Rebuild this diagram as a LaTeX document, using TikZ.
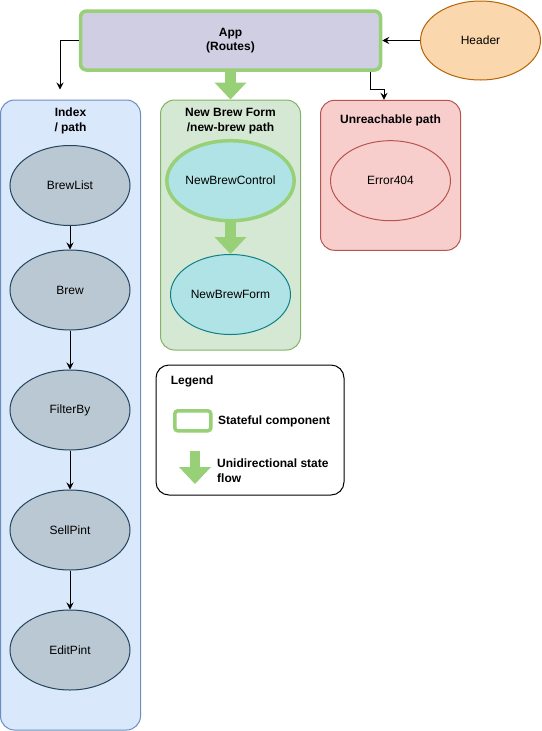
\documentclass[tikz,border=0pt]{standalone}
\usepackage{fontspec}
\setmainfont{Liberation Sans}
\usetikzlibrary{shapes.geometric,arrows.meta}
\definecolor{stategreen}{HTML}{97D077}
\definecolor{applav}{HTML}{D0CEE2}
\definecolor{bluefill}{HTML}{DAE8FC}
\definecolor{bluedraw}{HTML}{6C8EBF}
\definecolor{greenfill}{HTML}{D5E8D4}
\definecolor{greendraw}{HTML}{82B366}
\definecolor{redfill}{HTML}{F8CECC}
\definecolor{reddraw}{HTML}{B85450}
\definecolor{orgfill}{HTML}{FAD7AC}
\definecolor{orgdraw}{HTML}{B46504}
\definecolor{greyfill}{HTML}{BAC8D3}
\definecolor{greydraw}{HTML}{23445D}
\definecolor{tealfill}{HTML}{B0E3E6}
\definecolor{tealdraw}{HTML}{0E8088}
\newcommand{\dfont}{\fontsize{12pt}{14.5pt}\selectfont}
\tikzset{
  conn/.style={draw=black, line width=1pt, -{Stealth[length=7pt,width=7pt,inset=2.5pt]}},
  fatarrow/.style={draw=stategreen, line width=10.5pt, -{Triangle[length=17pt,width=32pt,line width=0pt]}},
  contbox/.style={rectangle, rounded corners=14pt, line width=1pt, minimum width=140pt, inner sep=0pt},
  ellnode/.style={ellipse, line width=1pt, minimum width=120pt, minimum height=80pt, inner sep=0pt, font=\dfont},
  greyell/.style={ellnode, draw=greydraw, fill=greyfill},
  titletext/.style={font=\dfont\bfseries, align=center, inner sep=0pt},
}
\begin{document}
\begin{tikzpicture}[x=1pt,y=-1pt]
\useasboundingbox (0,0) rectangle (541,731);
% containers
\node[contbox, draw=bluedraw, fill=bluefill, minimum height=630pt] (index) at (70.5,415) {};
\node[contbox, draw=greendraw, fill=greenfill, minimum height=250pt] (nbfbox) at (230.5,225) {};
\node[contbox, draw=reddraw, fill=redfill, minimum height=150pt] (unreach) at (390.5,175.3) {};
\node[titletext] (indext) at (70.5,121) {Index\\/ path};
\node[titletext] (nbft) at (230.5,121) {New Brew Form\\/new-brew path};
\node[titletext] (unrt) at (390.5,120.7) {Unreachable path};
% app and header
\node[rectangle, rounded corners=6pt, draw=stategreen, line width=3.5pt, fill=applav,
      minimum width=300pt, minimum height=59pt, inner sep=0pt,
      font=\dfont\bfseries, align=center] (app) at (230.5,40.5) {App\\(Routes)};
\node[ellnode, draw=orgdraw, fill=orgfill, minimum height=79pt] (header) at (480.5,40.5) {Header};
% ellipses
\node[greyell] (brewlist) at (70,185.5) {BrewList};
\node[greyell] (brew) at (70,290) {Brew};
\node[greyell] (filterby) at (70,410) {FilterBy};
\node[greyell] (sellpint) at (70,530) {SellPint};
\node[greyell] (editpint) at (70,650) {EditPint};
\node[ellnode, draw=stategreen, line width=3.5pt, fill=tealfill] (nbc) at (230.5,180.7) {NewBrewControl};
\node[ellnode, draw=tealdraw, fill=tealfill] (nbform) at (230.5,294.5) {NewBrewForm};
\node[ellnode, draw=reddraw, fill=redfill] (err) at (390.5,180.7) {Error404};
% connectors
\coordinate (idxin) at (60,89.5);
\draw[conn] (app.west) -| (idxin);
\draw[conn] (header.west) -- (app.east);
\draw[conn] ([xshift=140pt]app.south) |- ([xshift=-6.5pt,yshift=10pt]unreach.north) -- ([xshift=-6.5pt]unreach.north);
\draw[fatarrow] (app.south) -- (nbfbox.north);
\draw[fatarrow] (nbc.south) -- (nbform.north);
\draw[conn] (brewlist) -- (brew);
\draw[conn] (brew) -- (filterby);
\draw[conn] (filterby) -- (sellpint);
\draw[conn] (sellpint) -- (editpint);
% legend
\node[rectangle, rounded corners=13pt, draw=black, fill=white, line width=1pt,
      minimum width=188pt, minimum height=130pt, inner sep=0pt] (legend) at (250,430) {};
\node[font=\dfont\bfseries, anchor=west, inner sep=0pt] (legt) at (170.7,381) {Legend};
\node[rectangle, rounded corners=3pt, draw=stategreen, line width=3.5pt, fill=white,
      minimum width=36pt, minimum height=20pt, inner sep=0pt] (legrect) at (192.8,420.8) {};
\node[font=\dfont\bfseries, anchor=west, inner sep=0pt] (legst) at (218,421) {Stateful component};
\coordinate (lega) at (195,451);
\coordinate (legb) at (195,484);
\draw[fatarrow] (lega) -- (legb);
\node[font=\dfont\bfseries, anchor=west, align=left, inner sep=0pt] (legflow) at (217,470.5) {Unidirectional state\\flow};
\end{tikzpicture}
\end{document}
